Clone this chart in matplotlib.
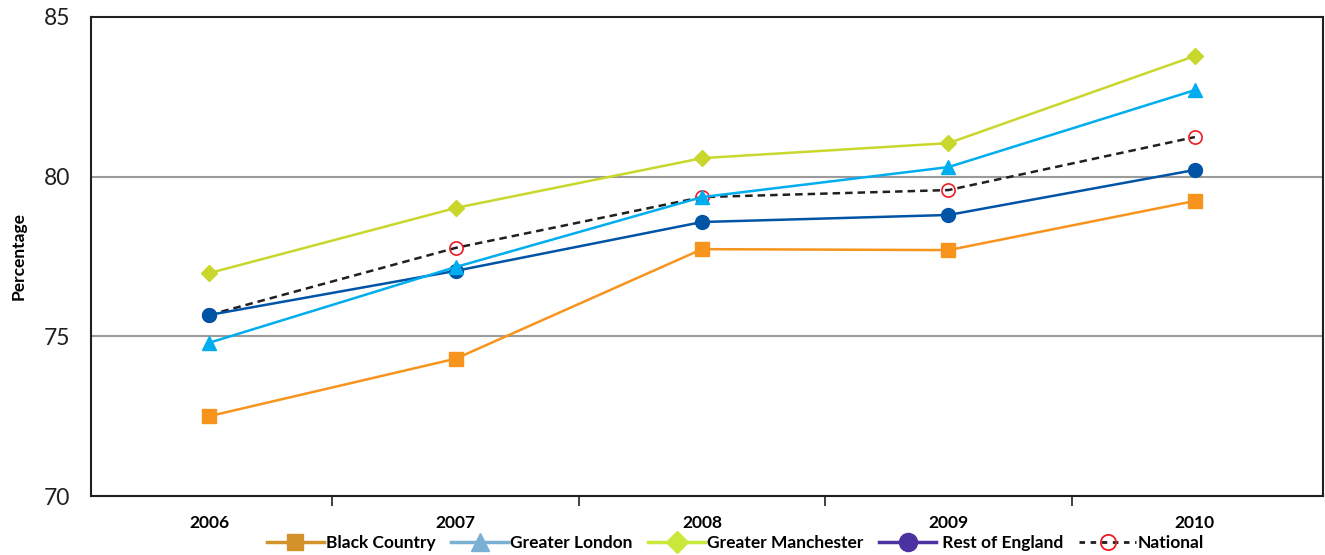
"""Percentage by region, 2006-2010"""

import numpy as np
import matplotlib.pyplot as plt
from matplotlib.lines import Line2D

plt.rcParams['font.family'] = ['Lato', 'DejaVu Sans']

years = ['2006', '2007', '2008', '2009', '2010']
black_country = [72.5, 74.3, 77.73, 77.7, 79.24]
greater_london = [74.8, 77.17, 79.36, 80.3, 82.71]
greater_manchester = [76.98, 79.02, 80.58, 81.05, 83.78]
rest_of_england = [75.67, 77.05, 78.58, 78.8, 80.21]
national = [75.67, 77.77, 79.36, 79.58, 81.24]

x = np.arange(len(years))

fig = plt.figure(figsize=(13.25, 5.55), dpi=100)
ax = fig.add_axes([0.0687, 0.1063, 0.9298, 0.8631])

# gridlines at 75 and 80
for yv in [75, 80]:
    ax.axhline(yv, color='#9a9a9a', lw=1.5, zorder=0)

# draw order matters: national lowest, london on top
ax.plot(x, national, color='#231F20', lw=1.8, ls=(0, (3, 2)), marker='o', ms=9.5,
        mfc='none', mec='#ED1C24', mew=1.2, zorder=2)
ax.plot(x, rest_of_england, color='#0054A6', lw=1.8, marker='o', ms=10, zorder=3)
ax.plot(x, black_country, color='#F7941D', lw=1.8, marker='s', ms=10.5, zorder=3)
ax.plot(x, greater_london, color='#00AEEF', lw=1.8, marker='^', ms=10.5, zorder=4)
ax.plot(x, greater_manchester, color='#C9D72C', lw=1.8, marker='D', ms=8.5, zorder=4)

ax.set_xlim(-0.48, 4.52)
ax.set_ylim(70, 85)
ax.set_yticks([70, 75, 80, 85])
ax.tick_params(axis='y', length=0, pad=15, labelsize=16.5, labelcolor='#231F20')

# category labels, tick marks between categories
ax.set_xticks(x)
ax.set_xticklabels(years, fontweight='bold', fontsize=12.5)
ax.set_xticks(np.arange(0.5, 4.5, 1), minor=True)
ax.tick_params(axis='x', which='major', length=0, pad=14)
ax.tick_params(axis='x', which='minor', length=7, width=1.2, color='#231F20',
               direction='out')

for s in ax.spines.values():
    s.set_color('#231F20')
    s.set_linewidth(1.5)

ax.set_ylabel('Percentage', fontweight='bold', fontsize=12.5, labelpad=12)

handles = [
    Line2D([], [], color='#D4922A', lw=2.5, marker='s', ms=12),
    Line2D([], [], color='#7BAFD4', lw=2.5, marker='^', ms=13),
    Line2D([], [], color='#C8E83C', lw=2.5, marker='D', ms=11),
    Line2D([], [], color='#4B32A0', lw=2.5, marker='o', ms=13),
    Line2D([], [], color='#231F20', lw=2, ls=(0, (2, 2)), marker='o', ms=11,
           mfc='none', mec='#ED1C24', mew=1.3),
]
labels = ['Black Country', 'Greater London', 'Greater Manchester',
          ' Rest of England', 'National']
fig.legend(handles, labels, loc='center', bbox_to_anchor=(0.555, 0.022),
           ncol=5, frameon=False, handlelength=3.3, handletextpad=0.1,
           columnspacing=0.9, prop={'weight': 'bold', 'size': 12.5})

fig.savefig('out.png', dpi=100)
